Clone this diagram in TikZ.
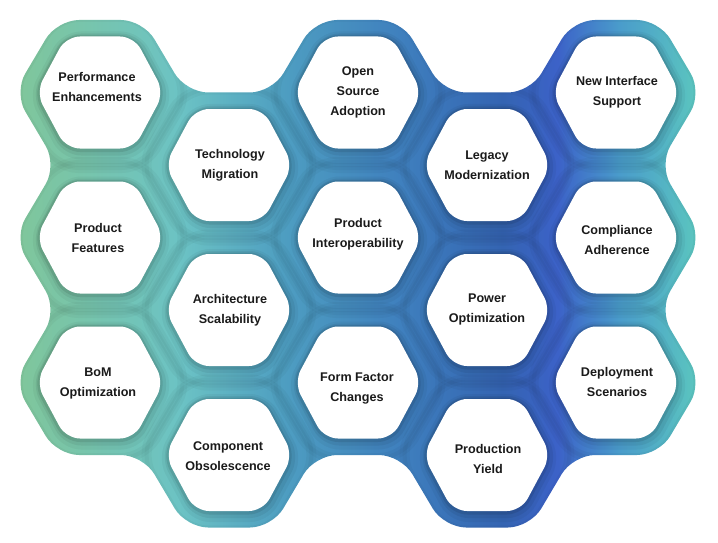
\documentclass[tikz,border=0pt]{standalone}
\usepackage{fontspec}
\setmainfont{Liberation Sans}
\definecolor{gA}{HTML}{80C69A}
\definecolor{gB}{HTML}{6CC3C4}
\definecolor{gC}{HTML}{4E9EC1}
\definecolor{gD}{HTML}{3F80BE}
\definecolor{gE}{HTML}{3464B2}
\definecolor{gF}{HTML}{3C62C8}
\definecolor{gG}{HTML}{4A9CCB}
\definecolor{gH}{HTML}{5CC8BE}
\definecolor{txt}{HTML}{1A1A1A}
\pgfdeclarehorizontalshading{hexgrad}{100bp}{color(0bp)=(gA); color(25bp)=(gA); color(37bp)=(gB); color(44.5bp)=(gC); color(53bp)=(gD); color(60.5bp)=(gE); color(64.5bp)=(gF); color(69bp)=(gG); color(75bp)=(gH); color(100bp)=(gH)}
\tikzset{
  lbl/.style={align=center, font=\fontsize{12.6}{20}\selectfont\bfseries, text=txt},
  seam/.style={draw=black, rounded corners=22pt},
  halo/.style={draw=black, rounded corners=14pt},
  whitehex/.style={fill=white, rounded corners=14pt}
}
\begin{document}
\begin{tikzpicture}[x=1pt,y=-1pt]
\useasboundingbox (0,0) rectangle (718,543);
\def\outline{(57,20) -- (143,20) -- (186,92.5) -- (272,92.5) -- (315,20) -- (401,20) -- (444,92.5) -- (530,92.5) -- (573,20) -- (659,20) -- (702,92.5) -- (659,165) -- (702,237.5) -- (659,310) -- (702,382.5) -- (659,455) -- (573,455) -- (530,527.5) -- (444,527.5) -- (401,455) -- (315,455) -- (272,527.5) -- (186,527.5) -- (143,455) -- (57,455) -- (14,382.5) -- (57,310) -- (14,237.5) -- (57,165) -- (14,92.5) -- cycle}
\def\cellhex{(-89,0) -- (-44,-75.5) -- (44,-75.5) -- (89,0) -- (44,75.5) -- (-44,75.5) -- cycle}
\def\innerhex{(-64,0) -- (-34,-56) -- (34,-56) -- (64,0) -- (34,56) -- (-34,56) -- cycle}
% coloured honeycomb body
\path[shading=hexgrad, rounded corners=22pt] \outline;
% soft seams between cells
\begin{scope}
  \clip[rounded corners=22pt] \outline;
  \foreach \cx/\cy in {100/92.5,100/237.5,100/382.5,229/165,229/310,229/455,358/92.5,358/237.5,358/382.5,487/165,487/310,487/455,616/92.5,616/237.5,616/382.5}{
    \path[seam, line width=10pt, opacity=0.03, shift={(\cx,\cy)}] \cellhex;
    \path[seam, line width=4pt, opacity=0.03, shift={(\cx,\cy)}] \cellhex;
  }
\end{scope}
% white hexagons with soft shadow
\foreach \cx/\cy in {100/92.5,100/237.5,100/382.5,229/165,229/310,229/455,358/92.5,358/237.5,358/382.5,487/165,487/310,487/455,616/92.5,616/237.5,616/382.5}{
  \path[halo, line width=16pt, opacity=0.04, shift={(\cx+1,\cy+3)}] \innerhex;
  \path[halo, line width=10pt, opacity=0.06, shift={(\cx+1,\cy+2)}] \innerhex;
  \path[halo, line width=5pt, opacity=0.09, shift={(\cx,\cy+1)}] \innerhex;
  \path[whitehex, shift={(\cx,\cy)}] \innerhex;
}
% labels
\node[lbl] (perf) at (97,87) {Performance\\Enhancements};
\node[lbl] (tech) at (230,165) {Technology\\Migration};
\node[lbl] (open) at (358,92) {Open\\Source\\Adoption};
\node[lbl] (legacy) at (487,165) {Legacy\\Modernization};
\node[lbl] (newif) at (617,92) {New Interface\\Support};
\node[lbl] (prodf) at (98,238) {Product\\Features};
\node[lbl] (interop) at (358,234) {Product\\Interoperability};
\node[lbl] (compl) at (617,240) {Compliance\\Adherence};
\node[lbl] (arch) at (230,310) {Architecture\\Scalability};
\node[lbl] (power) at (487,309) {Power\\Optimization};
\node[lbl] (bom) at (98,383) {BoM\\Optimization};
\node[lbl] (form) at (357,388) {Form Factor\\Changes};
\node[lbl] (deploy) at (617,382) {Deployment\\Scenarios};
\node[lbl] (comp) at (228,456) {Component\\Obsolescence};
\node[lbl] (yield) at (488,459) {Production\\Yield};
\end{tikzpicture}
\end{document}
